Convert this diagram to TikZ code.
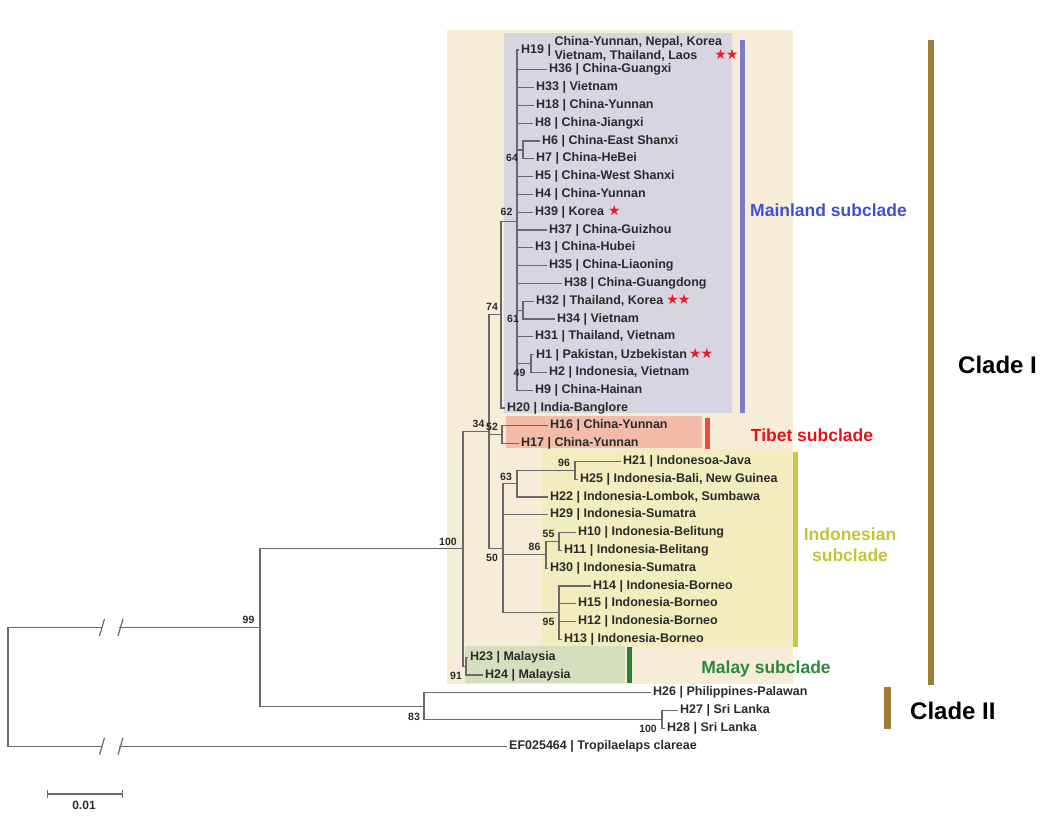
\documentclass[tikz,border=0pt]{standalone}
\usepackage{fontspec}
\setmainfont{Liberation Sans}
\newfontfamily\starfont{DejaVu Sans}
\definecolor{cladebg}{RGB}{247,236,216}
\definecolor{mainbg}{RGB}{216,213,226}
\definecolor{mainbar}{RGB}{125,125,200}
\definecolor{maintext}{RGB}{62,80,212}
\definecolor{tibetbg}{RGB}{243,188,168}
\definecolor{tibetbar}{RGB}{232,78,64}
\definecolor{tibettext}{RGB}{230,18,28}
\definecolor{indobg}{RGB}{242,236,190}
\definecolor{indobar}{RGB}{198,200,70}
\definecolor{indotext}{RGB}{196,196,56}
\definecolor{malaybg}{RGB}{213,223,190}
\definecolor{malaybar}{RGB}{46,125,50}
\definecolor{malaytext}{RGB}{42,138,58}
\definecolor{cladebar}{RGB}{160,125,55}
\definecolor{branchgrey}{RGB}{105,105,105}
\definecolor{labelgrey}{RGB}{42,42,42}
\definecolor{starred}{RGB}{230,30,40}
\newcommand{\redstar}{\textcolor{starred}{\starfont\fontsize{14}{13}\selectfont ★}}
\newcommand{\redstars}{\textcolor{starred}{\starfont\fontsize{14}{13}\selectfont ★\kern-1pt★}}
\begin{document}
\begin{tikzpicture}[x=1pt, y=-1pt,
  br/.style={draw=branchgrey, line width=1.2pt},
  leaf/.style={anchor=west, inner sep=2pt, text=labelgrey, font=\fontsize{12.5}{13}\selectfont\bfseries},
  boot/.style={inner sep=0pt, text=labelgrey, font=\fontsize{10.5}{11}\selectfont\bfseries},
  sublab/.style={inner sep=0pt, text height=12.5pt, text depth=0pt, font=\fontsize{17.5}{21}\selectfont\bfseries},
  clade/.style={anchor=west, inner sep=0pt, font=\fontsize{24}{28}\selectfont\bfseries}]
\useasboundingbox (0,0) rectangle (1048,822);
% shaded groups and bars
\fill[cladebg] (447,30) rectangle (793,684);
\fill[mainbg] (504,33) rectangle (732,413);
\fill[tibetbg] (506,416) rectangle (702,448);
\fill[indobg] (542,449) rectangle (792,647);
\fill[malaybg] (465,646) rectangle (625,683);
\fill[mainbar] (740,40) rectangle (745,413);
\fill[tibetbar] (705,418) rectangle (710,449);
\fill[indobar] (793,452) rectangle (798,647);
\fill[malaybar] (627,647) rectangle (632,683);
\fill[cladebar] (928,40) rectangle (934,685);
\fill[cladebar] (884,687) rectangle (891,729);
% internal nodes
\coordinate (root) at (8,686.8);
\coordinate (n99) at (260,627.45);
\coordinate (n100) at (463,548.75);
\coordinate (n34) at (489,431.4);
\coordinate (n74) at (501,314.6);
\coordinate (n62) at (517,221.1);
\coordinate (n64) at (523,149.9);
\coordinate (n61) at (523,310.1);
\coordinate (n49) at (531,363.5);
\coordinate (n52) at (502,434.7);
\coordinate (n50) at (503,548.2);
\coordinate (n63) at (517,483.65);
\coordinate (n96) at (575,470.3);
\coordinate (n86) at (546,554.85);
\coordinate (n55) at (559,541.5);
\coordinate (n95) at (559,612.7);
\coordinate (n91) at (466,666.1);
\coordinate (n83) at (424,706.15);
\coordinate (n100b) at (662,719.5);
\coordinate (cut1) at (102,627.45);
\coordinate (cut2) at (119,627.45);
\coordinate (cut3) at (102,746.2);
\coordinate (cut4) at (119,746.2);
% haplotypes
\node[leaf] (h19) at (519,50) {H19 | \begin{tabular}[c]{@{}l@{}}China-Yunnan, Nepal, Korea\\Vietnam, Thailand, Laos\hspace{17pt}\redstars\end{tabular}};
\node[leaf] (h36) at (547,69.8) {H36 | China-Guangxi};
\node[leaf] (h33) at (534,87.6) {H33 | Vietnam};
\node[leaf] (h18) at (534,105.4) {H18 | China-Yunnan};
\node[leaf] (h8) at (533,123.2) {H8 | China-Jiangxi};
\node[leaf] (h6) at (540,141) {H6 | China-East Shanxi};
\node[leaf] (h7) at (534,158.8) {H7 | China-HeBei};
\node[leaf] (h5) at (533,176.6) {H5 | China-West Shanxi};
\node[leaf] (h4) at (533,194.4) {H4 | China-Yunnan};
\node[leaf] (h39) at (533,212.2) {H39 | Korea\hspace{4pt}\redstar};
\node[leaf] (h37) at (547,230) {H37 | China-Guizhou};
\node[leaf] (h3) at (533,247.8) {H3 | China-Hubei};
\node[leaf] (h35) at (547,265.6) {H35 | China-Liaoning};
\node[leaf] (h38) at (562,283.4) {H38 | China-Guangdong};
\node[leaf] (h32) at (534,301.2) {H32 | Thailand, Korea\hspace{3pt}\redstars};
\node[leaf] (h34) at (555,319) {H34 | Vietnam};
\node[leaf] (h31) at (533,336.8) {H31 | Thailand, Vietnam};
\node[leaf] (h1) at (534,354.6) {H1 | Pakistan, Uzbekistan\hspace{2pt}\redstars};
\node[leaf] (h2) at (547,372.4) {H2 | Indonesia, Vietnam};
\node[leaf] (h9) at (533,390.2) {H9 | China-Hainan};
\node[leaf] (h20) at (505,408) {H20 | India-Banglore};
\node[leaf] (h16) at (548,425.8) {H16 | China-Yunnan};
\node[leaf] (h17) at (519,443.6) {H17 | China-Yunnan};
\node[leaf] (h21) at (621,461.4) {H21 | Indonesoa-Java};
\node[leaf] (h25) at (578,479.2) {H25 | Indonesia-Bali, New Guinea};
\node[leaf] (h22) at (548,497) {H22 | Indonesia-Lombok, Sumbawa};
\node[leaf] (h29) at (548,514.8) {H29 | Indonesia-Sumatra};
\node[leaf] (h10) at (576,532.6) {H10 | Indonesia-Belitung};
\node[leaf] (h11) at (562,550.4) {H11 | Indonesia-Belitang};
\node[leaf] (h30) at (548,568.2) {H30 | Indonesia-Sumatra};
\node[leaf] (h14) at (591,586) {H14 | Indonesia-Borneo};
\node[leaf] (h15) at (576,603.8) {H15 | Indonesia-Borneo};
\node[leaf] (h12) at (576,621.6) {H12 | Indonesia-Borneo};
\node[leaf] (h13) at (562,639.4) {H13 | Indonesia-Borneo};
\node[leaf] (h23) at (468,657.2) {H23 | Malaysia};
\node[leaf] (h24) at (483,675) {H24 | Malaysia};
\node[leaf] (h26) at (651,692.8) {H26 | Philippines-Palawan};
\node[leaf] (h27) at (678,710.6) {H27 | Sri Lanka};
\node[leaf] (h28) at (665,728.4) {H28 | Sri Lanka};
\node[leaf] (ef) at (507,746.2) {EF025464 | Tropilaelaps clareae};
% branches
\draw[br] (root) |- (cut1) (cut2) -- (n99);
\draw[br] (root) |- (cut3) (cut4) -- (ef.west);
\draw[br] ([shift={(-2.5,8.5)}]cut1) -- ++(5,-17) ([shift={(-1,8.5)}]cut2) -- ++(5,-17);
\draw[br] ([shift={(-2.5,8.5)}]cut3) -- ++(5,-17) ([shift={(-1,8.5)}]cut4) -- ++(5,-17);
\draw[br] (n99) |- (n100) (n99) |- (n83);
\draw[br] (n100) |- (n34) (n100) |- (n91);
\draw[br] (n34) |- (n74) (n34) |- (n52) (n34) |- (n50);
\draw[br] (n74) |- (n62) (n74) |- (h20.west);
\draw[br] (n62) |- (h19.west) (n62) |- (h36.west) (n62) |- (h33.west) (n62) |- (h18.west)
  (n62) |- (h8.west) (n62) |- (n64) (n62) |- (h5.west) (n62) |- (h4.west) (n62) |- (h39.west)
  (n62) |- (h37.west) (n62) |- (h3.west) (n62) |- (h35.west) (n62) |- (h38.west)
  (n62) |- (n61) (n62) |- (h31.west) (n62) |- (n49) (n62) |- (h9.west);
\draw[br] (n64) |- (h6.west) (n64) |- (h7.west);
\draw[br] (n61) |- (h32.west) (n61) |- (h34.west);
\draw[br] (n49) |- (h1.west) (n49) |- (h2.west);
\draw[br] (n52) |- (h16.west) (n52) |- (h17.west);
\draw[br] (n50) |- (n63) (n50) |- (h29.west) (n50) |- (n86) (n50) |- (n95);
\draw[br] (n63) |- (n96) (n63) |- (h22.west);
\draw[br] (n96) |- (h21.west) (n96) |- (h25.west);
\draw[br] (n86) |- (n55) (n86) |- (h30.west);
\draw[br] (n55) |- (h10.west) (n55) |- (h11.west);
\draw[br] (n95) |- (h14.west) (n95) |- (h15.west) (n95) |- (h12.west) (n95) |- (h13.west);
\draw[br] (n91) |- (h23.west) (n91) |- (h24.west);
\draw[br] (n83) |- (h26.west) (n83) |- (n100b);
\draw[br] (n100b) |- (h27.west) (n100b) |- (h28.west);
% bootstrap values
\node[boot] (b62) at (506.5,212) {62};
\node[boot] (b64) at (512,158) {64};
\node[boot] (b74) at (492,307) {74};
\node[boot] (b61) at (513,319) {61};
\node[boot] (b49) at (519.5,373) {49};
\node[boot] (b34) at (478.5,424) {34};
\node[boot] (b52) at (492,427) {52};
\node[boot] (b63) at (506,477) {63};
\node[boot] (b96) at (564,463) {96};
\node[boot] (b55) at (548.5,534) {55};
\node[boot] (b86) at (534.5,547) {86};
\node[boot] (b50) at (492,558) {50};
\node[boot] (b95) at (548.5,622) {95};
\node[boot] (b100) at (448,542) {100};
\node[boot] (b91) at (456,676) {91};
\node[boot] (b99) at (248.5,620) {99};
\node[boot] (b83) at (414,717) {83};
\node[boot] (b100b) at (648,729) {100};
% group names
\node[sublab, text=maintext] (lmain) at (828.5,210) {Mainland subclade};
\node[sublab, text=tibettext] (ltibet) at (812,435.5) {Tibet subclade};
\node[inner sep=0pt, align=center, text=indotext, font=\fontsize{17.5}{21}\selectfont\bfseries] (lindo) at (850,544.4) {Indonesian\\subclade};
\node[sublab, text=malaytext] (lmalay) at (766,667) {Malay subclade};
\node[clade] (lc1) at (958,364.5) {Clade I};
\node[clade] (lc2) at (910,710.5) {Clade II};
% scale bar
\coordinate (sb1) at (47,794);
\coordinate (sb2) at (123,794);
\draw[br, |-|] (sb1) -- (sb2);
\node[boot, font=\fontsize{12}{13}\selectfont\bfseries] (sbl) at (84,805.5) {0.01};
\end{tikzpicture}
\end{document}
